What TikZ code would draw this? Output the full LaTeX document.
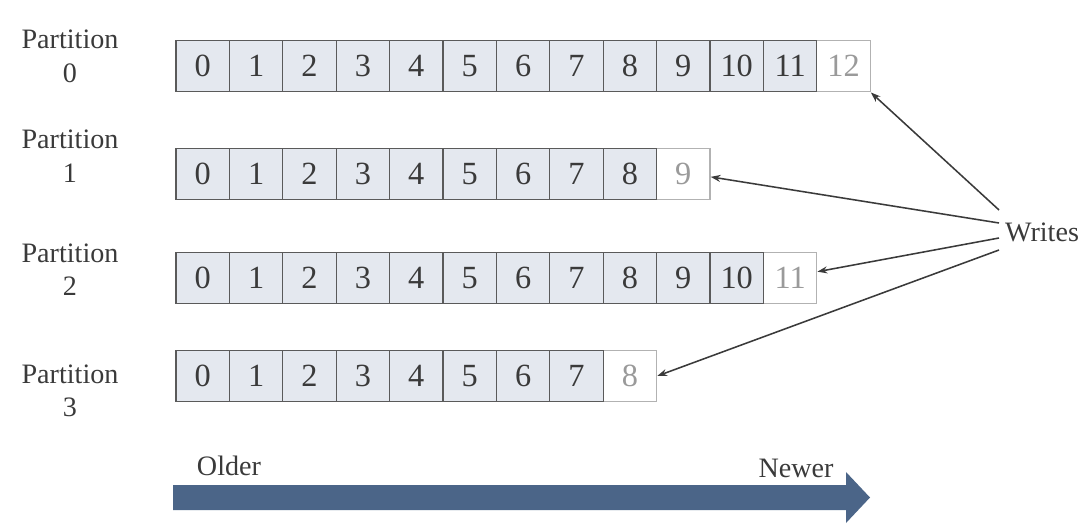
\documentclass[tikz,border=0pt]{standalone}
\usepackage{fontspec}
\setmainfont{Liberation Serif}
\usetikzlibrary{arrows.meta}
\definecolor{cellfill}{HTML}{E4E8EF}
\definecolor{celldraw}{HTML}{5A5A5A}
\definecolor{txtgray}{HTML}{3A3A3A}
\definecolor{newgray}{HTML}{9A9A9A}
\definecolor{timeblue}{HTML}{4B6588}
\begin{document}
\begin{tikzpicture}[every text node part/.style={align=center}]
        \tikzset{
          offset/.style={draw=celldraw, fill=cellfill, line width=0.9pt,
            minimum width=1.335cm, minimum height=1.29cm, inner sep=0pt,
            text=txtgray, font=\fontsize{23}{27}\selectfont},
          newoffset/.style={offset, draw=black!30, fill=white, text=newgray},
          plabel/.style={text=txtgray, font=\fontsize{20}{24}\selectfont},
          writearrow/.style={draw=txtgray, line width=1.1pt, -{Stealth[length=7pt,width=5pt]}},
        }
        \useasboundingbox (0,0) rectangle (27.05,13.1);
        % partition labels
        \node [plabel] (p0) at (1.75,11.69) {Partition\\0};
        \node [plabel] (p1) at (1.75,9.19) {Partition\\1};
        \node [plabel] (p2) at (1.75,6.36) {Partition\\2};
        \node [plabel] (p3) at (1.75,3.33) {Partition\\3};
        % 
        \foreach \row/\y/\last in {0/11.45/12, 1/8.75/9, 2/6.15/11, 3/3.7/8} {
          \node [newoffset] (c\row-\last) at (5.0675+1.335*\last,\y) {\last};
          \pgfmathtruncatemacro\prev{\last-1}
          \foreach \i in {0,...,\prev}
            \node [offset] (c\row-\i) at (5.0675+1.335*\i,\y) {\i};
        }
        % 
        \node [plabel] (writes) at (26.05,7.3) {Writes};
        \coordinate (w0) at (24.975,7.85);
        \coordinate (w1) at (24.975,7.525);
        \coordinate (w2) at (24.975,7.15);
        \coordinate (w3) at (24.975,6.85);
        \draw [writearrow] (w0) -- (c0-12.south east);
        \draw [writearrow] (w1) -- (c1-9.-6);
        \draw [writearrow] (w2) -- (c2-11.13);
        \draw [writearrow] (w3) -- (c3-8.east);
        % 
        \fill [timeblue] (4.325,0.35) -- (21.15,0.35) -- (21.15,0.025) -- (21.75,0.6625)
          -- (21.15,1.3) -- (21.15,0.975) -- (4.325,0.975) -- cycle;
        \node [plabel] (older) at (5.725,1.45) {Older};
        \node [plabel] (newer) at (19.9,1.39) {Newer};
    \end{tikzpicture}
\end{document}
